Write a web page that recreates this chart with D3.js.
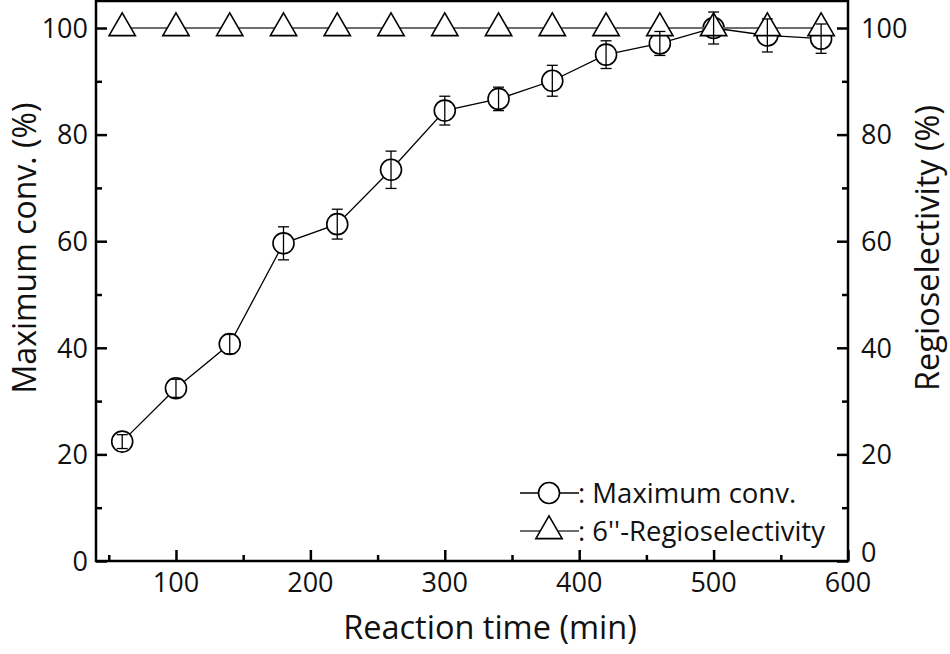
<!DOCTYPE html>
<html>
<head>
<meta charset="utf-8">
<script src="https://cdn.jsdelivr.net/npm/d3@7"></script>
<style>
  body { margin: 0; background: #fff; }
  svg text { font-family: "Open Sans", "Noto Sans", sans-serif; fill: #111; }
</style>
</head>
<body>
<svg id="chart" width="950" height="654"></svg>
<script>
// reaction time (min)
const times = [60, 100, 140, 180, 220, 260, 300, 340, 380, 420, 460, 500, 540, 580];
// maximum conversion (%) and its error
const maxConv = [22.4, 32.4, 40.7, 59.6, 63.2, 73.4, 84.5, 86.7, 90.1, 95.0, 97.1, 100.0, 98.6, 98.0];
const convErr = [1.3, 1.7, 1.8, 3.1, 2.8, 3.5, 2.7, 2.2, 2.9, 2.6, 2.25, 3.0, 3.1, 2.75];
// 6''-regioselectivity (%)
const regio = [100, 100, 100, 100, 100, 100, 100, 100, 100, 100, 100, 100, 100, 100];

const xTicks = [100, 200, 300, 400, 500, 600];
const xMinor = [50, 150, 250, 350, 450, 550];
const yTicks = [0, 20, 40, 60, 80, 100];
const yMinor = [10, 30, 50, 70, 90];

const svg = d3.select("#chart");
const m = { left: 96, right: 848, top: 1, bottom: 561 };

const x = d3.scaleLinear().domain([40.5, 600]).range([m.left, m.right]);
const y = d3.scaleLinear().domain([0, 100]).range([m.bottom, 28]);
const yR = d3.scaleLinear().domain([0, 100]).range([m.bottom, 28]);

// frame
svg.append("rect")
  .attr("x", m.left).attr("y", m.top)
  .attr("width", m.right - m.left).attr("height", m.bottom - m.top)
  .attr("fill", "none").attr("stroke", "#000").attr("stroke-width", 2.5);

// axes with inward ticks
function styleAxis(g) {
  g.select(".domain").remove();
  g.selectAll("line").attr("stroke", "#000").attr("stroke-width", 2.5);
}

svg.append("g").attr("transform", `translate(0,${m.bottom})`)
  .call(d3.axisTop(x).tickValues(xTicks).tickSize(11).tickFormat(""))
  .call(styleAxis);
svg.append("g").attr("transform", `translate(0,${m.bottom})`)
  .call(d3.axisTop(x).tickValues(xMinor).tickSize(6).tickFormat(""))
  .call(styleAxis);
svg.append("g").selectAll("text").data(xTicks).join("text")
  .attr("x", d => x(d)).attr("y", m.bottom + 31)
  .attr("text-anchor", "middle").style("font-size", "27px")
  .text(d => d);

svg.append("g").attr("transform", `translate(${m.left},0)`)
  .call(d3.axisRight(y).tickValues(yTicks).tickSize(11).tickFormat(""))
  .call(styleAxis);
svg.append("g").attr("transform", `translate(${m.left},0)`)
  .call(d3.axisRight(y).tickValues(yMinor).tickSize(6).tickFormat(""))
  .call(styleAxis);
svg.append("g").selectAll("text").data(yTicks).join("text")
  .attr("x", m.left - 8).attr("y", d => y(d)).attr("dy", "0.36em")
  .attr("text-anchor", "end").style("font-size", "27px")
  .text(d => d);

svg.append("g").attr("transform", `translate(${m.right},0)`)
  .call(d3.axisLeft(yR).tickValues(yTicks).tickSize(11).tickFormat(""))
  .call(styleAxis);
svg.append("g").attr("transform", `translate(${m.right},0)`)
  .call(d3.axisLeft(yR).tickValues(yMinor).tickSize(6).tickFormat(""))
  .call(styleAxis);
svg.append("g").selectAll("text").data(yTicks).join("text")
  .attr("x", m.right + 13).attr("y", d => yR(d)).attr("dy", d => d === 0 ? "0.05em" : "0.36em")
  .attr("text-anchor", "start").style("font-size", "27px")
  .text(d => d);

// axis titles
svg.append("text").attr("x", 490).attr("y", 639)
  .attr("text-anchor", "middle").style("font-size", "32.5px")
  .text("Reaction time (min)");
svg.append("text").attr("transform", "translate(36,248) rotate(-90)")
  .attr("text-anchor", "middle").style("font-size", "32px")
  .text("Maximum conv. (%)");
svg.append("text").attr("transform", "translate(939,248) rotate(-90)")
  .attr("text-anchor", "middle").style("font-size", "32.5px")
  .text("Regioselectivity (%)");

const conv = times.map((t, i) => ({ t, v: maxConv[i], e: convErr[i] }));
const reg = times.map((t, i) => ({ t, v: regio[i] }));

const triangle = d3.symbol().type(d3.symbolTriangle).size(300);

// conversion line + circles
svg.append("path").datum(conv)
  .attr("fill", "none").attr("stroke", "#000").attr("stroke-width", 1.3)
  .attr("d", d3.line().x(d => x(d.t)).y(d => y(d.v)));
svg.append("g").selectAll("circle").data(conv).join("circle")
  .attr("cx", d => x(d.t)).attr("cy", d => y(d.v)).attr("r", 10.5)
  .attr("fill", "#fff").attr("stroke", "#000").attr("stroke-width", 1.6);

// regioselectivity line + triangles
svg.append("path").datum(reg)
  .attr("fill", "none").attr("stroke", "#6e6e6e").attr("stroke-width", 2)
  .attr("d", d3.line().x(d => x(d.t)).y(d => yR(d.v)));
svg.append("g").selectAll("path").data(reg).join("path")
  .attr("d", triangle)
  .attr("transform", d => `translate(${x(d.t)},${yR(d.v)})`)
  .attr("fill", "#fff").attr("stroke", "#000").attr("stroke-width", 1.6);

// error bars
const eb = svg.append("g").attr("stroke", "#000").attr("stroke-width", 1.3);
conv.forEach(d => {
  const cx = x(d.t), y1 = y(d.v + d.e), y0 = y(d.v - d.e);
  eb.append("line").attr("x1", cx).attr("x2", cx).attr("y1", y1).attr("y2", y0);
  eb.append("line").attr("x1", cx - 5.5).attr("x2", cx + 5.5).attr("y1", y1).attr("y2", y1);
  eb.append("line").attr("x1", cx - 5.5).attr("x2", cx + 5.5).attr("y1", y0).attr("y2", y0);
});

// legend
const leg = svg.append("g");
const legRows = [
  { label: ": Maximum conv.", shape: "circle", color: "#000", ly: 493 },
  { label: ": 6''-Regioselectivity", shape: "triangle", color: "#6e6e6e", ly: 531 }
];
legRows.forEach(r => {
  leg.append("line").attr("x1", 520).attr("x2", 579).attr("y1", r.ly).attr("y2", r.ly)
    .attr("stroke", r.color).attr("stroke-width", r.shape === "circle" ? 1.3 : 2);
  if (r.shape === "circle") {
    leg.append("circle").attr("cx", 549).attr("cy", r.ly).attr("r", 10.5)
      .attr("fill", "#fff").attr("stroke", "#000").attr("stroke-width", 1.6);
  } else {
    leg.append("path").attr("d", triangle).attr("transform", `translate(549,${r.ly})`)
      .attr("fill", "#fff").attr("stroke", "#000").attr("stroke-width", 1.6);
  }
  leg.append("text").attr("x", 578).attr("y", r.ly + 10).style("font-size", "27.5px").text(r.label);
});
</script>
</body>
</html>
